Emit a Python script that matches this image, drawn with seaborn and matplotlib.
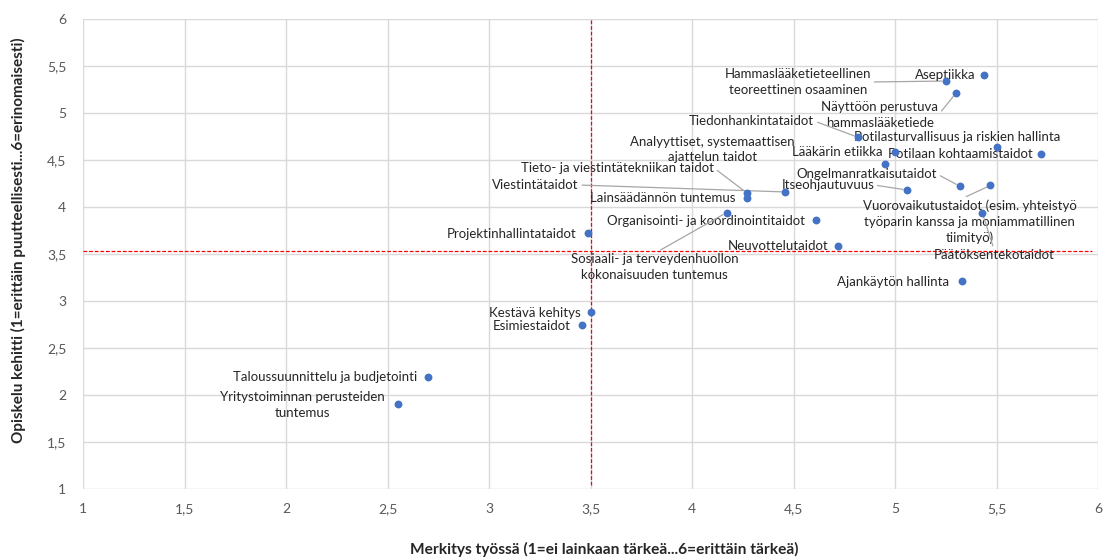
import matplotlib
matplotlib.use("Agg")
import matplotlib.pyplot as plt
import seaborn as sns
import pandas as pd

# ---- data ----
skills = [
    "Hammaslääketieteellinen\nteoreettinen osaaminen",
    "Aseptiikka",
    "Näyttöön perustuva\nhammaslääketiede",
    "Tiedonhankintataidot",
    "Potilasturvallisuus ja riskien hallinta",
    "Analyyttiset, systemaattisen\najattelun taidot",
    "Lääkärin etiikka",
    "Potilaan kohtaamistaidot",
    "Tieto- ja viestintätekniikan taidot",
    "Viestintätaidot",
    "Lainsäädännön tuntemus",
    "Itseohjautuvuus",
    "Ongelmanratkaisutaidot",
    "Vuorovaikutustaidot (esim. yhteistyö\ntyöparin kanssa ja moniammatillinen\ntiimityö)",
    "Päätöksentekotaidot",
    "Organisointi- ja koordinointitaidot",
    "Projektinhallintataidot",
    "Sosiaali- ja terveydenhuollon\nkokonaisuuden tuntemus",
    "Neuvottelutaidot",
    "Ajankäytön hallinta",
    "Kestävä kehitys",
    "Esimiestaidot",
    "Taloussuunnittelu ja budjetointi",
    "Yritystoiminnan perusteiden\ntuntemus",
]
importance = [5.25, 5.44, 5.30, 4.82, 5.50, 5.00, 4.95, 5.72, 4.27, 4.46, 4.27, 5.06,
              5.32, 5.47, 5.43, 4.61, 3.49, 4.17, 4.72, 5.33, 3.50, 3.46, 2.70, 2.55]
development = [5.34, 5.40, 5.21, 4.74, 4.64, 4.59, 4.46, 4.56, 4.15, 4.16, 4.10, 4.18,
               4.22, 4.23, 3.94, 3.86, 3.72, 3.94, 3.59, 3.21, 2.88, 2.74, 2.19, 1.90]

x_mean = 3.50
y_mean = 3.535

tick_values = [1, 1.5, 2, 2.5, 3, 3.5, 4, 4.5, 5, 5.5, 6]
tick_labels = ["1", "1,5", "2", "2,5", "3", "3,5", "4", "4,5", "5", "5,5", "6"]

x_title = "Merkitys työssä (1=ei lainkaan tärkeä...6=erittäin tärkeä)"
y_title = "Opiskelu kehitti (1=erittäin puutteellisesti...6=erinomaisesti)"

# ---- label placement (layout, not data) ----
label_x = [4.521, 5.246, 4.925, 4.294, 5.305, 4.102, 4.718, 5.320, 3.633, 3.229, 3.856, 4.669,
           4.861, 5.369, 5.487, 4.071, 3.112, 3.817, 4.423, 4.989, 3.224, 3.210, 2.195, 2.082]
label_y = [5.330, 5.404, 4.979, 4.915, 4.745, 4.612, 4.585, 4.564, 4.415, 4.234, 4.096, 4.234,
           4.351, 3.840, 3.489, 3.851, 3.713, 3.362, 3.585, 3.202, 2.872, 2.734, 2.191, 1.894]
# relpos of leader start on the label box, None = no leader
leaders = [(1, 0.5), None, (1, 0.5), (1, 0.5), None, None, (1, 0.6), None, (1, 0.5), (1, 0.5),
           None, (1, 0.5), (1, 0.5), (0.45, 1), (0.5, 1), None, None, (0.5, 1), None, None,
           None, None, None, None]

df = pd.DataFrame({"skill": skills, "importance": importance, "development": development})

sns.set_theme(style="white")
plt.rcParams["font.family"] = ["Lato", "DejaVu Sans"]

fig = plt.figure(figsize=(11.03, 5.58), dpi=100)
ax = fig.add_axes([83 / 1103, 1 - 489 / 558, 1015 / 1103, 470 / 558])

ax.set_xlim(1, 6)
ax.set_ylim(1, 6)
ax.set_xticks(tick_values)
ax.set_xticklabels(tick_labels)
ax.set_yticks(tick_values)
ax.set_yticklabels(tick_labels)
ax.grid(True, color="#d9d9d9", linewidth=1.0, zorder=0)
ax.set_axisbelow(True)
for s in ax.spines.values():
    s.set_visible(False)
ax.tick_params(axis="both", length=0, labelsize=10, labelcolor="#595959")
ax.tick_params(axis="x", pad=10)
ax.tick_params(axis="y", pad=12)

ax.axvline(x_mean, ymin=0.008, ymax=1.0, color="#ff0000", linestyle=(0, (3, 1.5)), linewidth=0.9, zorder=2)
ax.axhline(y_mean, xmin=0.0, xmax=0.994, color="#ff0000", linestyle=(0, (3, 1.5)), linewidth=0.9, zorder=2)

sns.scatterplot(data=df, x="importance", y="development", ax=ax, color="#4472c4",
                s=32, linewidth=0, zorder=5, legend=False)

for i, name in enumerate(skills):
    lp = leaders[i]
    kw = {}
    if lp is not None:
        kw["arrowprops"] = dict(arrowstyle="-", color="#a6a6a6", lw=0.9, relpos=lp,
                                shrinkA=0, shrinkB=3)
    ax.annotate(name, xy=(importance[i], development[i]), xytext=(label_x[i], label_y[i]),
                textcoords="data", ha="center", va="center", fontsize=9.5, color="#262626",
                linespacing=1.35, zorder=4, **kw)

ax.set_xlabel(x_title, fontsize=11.2, fontweight="bold", color="#262626")
ax.set_ylabel(y_title, fontsize=11, fontweight="bold", color="#262626")
ax.xaxis.set_label_coords(0.514, -0.128)
ax.xaxis.label.set_va("center")
ax.yaxis.set_label_coords(-0.064, 0.53)
ax.yaxis.label.set_va("center")

fig.savefig("out.png", dpi=100)
